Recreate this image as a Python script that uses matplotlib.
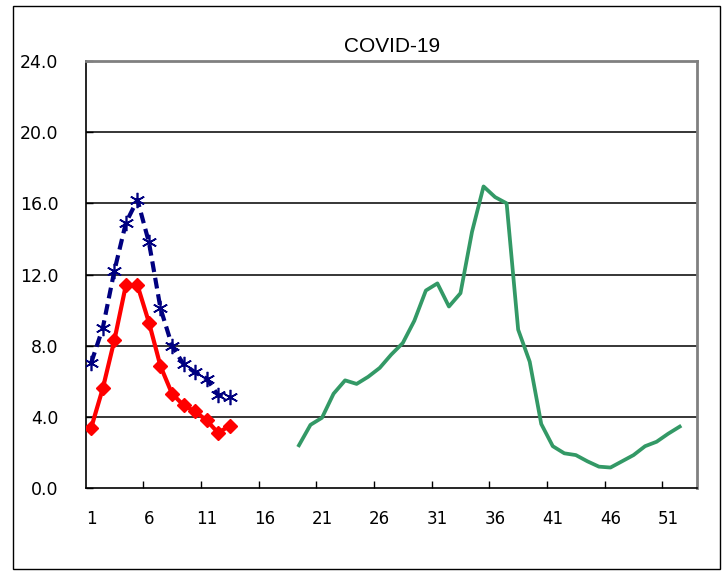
import matplotlib
matplotlib.use("Agg")
import matplotlib.pyplot as plt
from matplotlib.patches import Rectangle
from matplotlib.ticker import FixedLocator

# weekly values
blue_weeks = list(range(1, 14))
blue_vals = [7.05, 9.0, 12.2, 14.9, 16.2, 13.8, 10.1, 8.0, 6.95, 6.5, 6.15, 5.2, 5.1]

red_weeks = list(range(1, 14))
red_vals = [3.4, 5.6, 8.3, 11.4, 11.4, 9.3, 6.85, 5.3, 4.65, 4.3, 3.8, 3.1, 3.5]

green_weeks = list(range(19, 53))
green_vals = [2.4, 3.55, 3.95, 5.3, 6.05, 5.85, 6.25, 6.75, 7.5, 8.15, 9.4, 11.1,
              11.5, 10.2, 10.95, 14.4, 16.95, 16.35, 16.0, 8.9, 7.1, 3.6, 2.35,
              1.95, 1.85, 1.5, 1.2, 1.15, 1.5, 1.85, 2.35, 2.6, 3.05, 3.45]

x_labels = [1, 6, 11, 16, 21, 26, 31, 36, 41, 46, 51]
y_ticks = [0, 4, 8, 12, 16, 20, 24]

fig = plt.figure(figsize=(7.28, 5.71), dpi=100)
W, H = 728, 571
ax = fig.add_axes([85.5 / W, 1 - 488 / H, (697 - 85.5) / W, (488 - 61) / H])

# outer frame of the chart area
fig.patches.append(Rectangle((12.5 / W, 1 - 569 / H), (720 - 12.5) / W, (569 - 6) / H,
                             transform=fig.transFigure, fill=False,
                             edgecolor="black", linewidth=1.0))

for y in y_ticks[1:]:
    ax.axhline(y, color="black", linewidth=1.1, zorder=1)

ax.plot(green_weeks, green_vals, color="#339966", linewidth=2.7, zorder=3)
ax.plot(red_weeks, red_vals, color="#ff0000", linewidth=3.0, marker="D",
        markersize=7, zorder=4)
ax.plot(blue_weeks, blue_vals, color="#000080", linewidth=3.0, linestyle=(0, (2.6, 1.4)),
        marker=(6, 2, 0), markersize=11, markeredgewidth=1.2, zorder=5)

ax.set_xlim(0.5, 53.5)
ax.set_ylim(0, 24)

# tick marks between categories, labels on categories
ax.xaxis.set_major_locator(FixedLocator([x + 4.5 for x in x_labels[:-1]] + [55.5]))
ax.xaxis.set_minor_locator(FixedLocator(x_labels))
ax.set_xticklabels([])
ax.set_xticklabels([str(v) for v in x_labels], minor=True)
ax.tick_params(axis="x", which="major", direction="in", length=5, width=1)
ax.tick_params(axis="x", which="minor", length=0, pad=16, labelsize=12)

ax.set_yticks(y_ticks)
ax.set_yticklabels([f"{v:.1f}" for v in y_ticks])
ax.tick_params(axis="y", direction="in", length=5, width=1, pad=19.5, labelsize=12.5)

ax.spines["left"].set_color("black")
ax.spines["bottom"].set_color("black")
ax.spines["left"].set_linewidth(1.2)
ax.spines["bottom"].set_linewidth(1.2)
ax.spines["top"].set_color("#808080")
ax.spines["right"].set_color("#808080")
ax.spines["top"].set_linewidth(2)
ax.spines["right"].set_linewidth(2)

fig.text(392 / W, 1 - 46 / H, "COVID-19", ha="center", va="center",
         fontsize=15, family="Liberation Sans")

fig.savefig("out.png", dpi=100)
